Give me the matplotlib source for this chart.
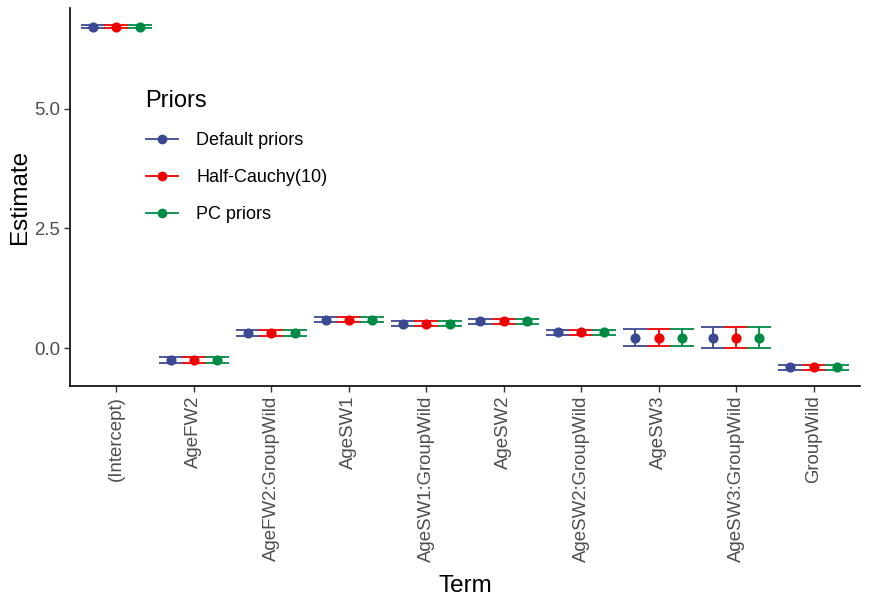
import matplotlib
matplotlib.use('Agg')
import matplotlib.pyplot as plt
from matplotlib.lines import Line2D
import numpy as np

plt.rcParams['font.family'] = ['Liberation Sans', 'DejaVu Sans']

# ── Data ─────────────────────────────────────────────────────────────────────
terms = ['(Intercept)', 'AgeFW2', 'AgeFW2:GroupWild', 'AgeSW1',
         'AgeSW1:GroupWild', 'AgeSW2', 'AgeSW2:GroupWild', 'AgeSW3',
         'AgeSW3:GroupWild', 'GroupWild']
priors = ['Default priors', 'Half-Cauchy(10)', 'PC priors']
colors = ['#3B4992', '#EE0000', '#008B45']

estimate = [6.71, -0.25, 0.31, 0.59, 0.51, 0.56, 0.33, 0.21, 0.22, -0.40]
lower    = [6.68, -0.31, 0.25, 0.54, 0.46, 0.51, 0.28, 0.05, 0.01, -0.45]
upper    = [6.74, -0.19, 0.37, 0.64, 0.56, 0.61, 0.38, 0.40, 0.44, -0.35]

# the three prior settings gave (visually) identical estimates
est = {p: estimate for p in priors}
lo  = {p: lower for p in priors}
hi  = {p: upper for p in priors}

# ── Plot ─────────────────────────────────────────────────────────────────────
fig = plt.figure(figsize=(8.82, 5.99), dpi=100)
ax = fig.add_axes([70 / 882, 1 - 386 / 599, (860 - 70) / 882, (386 - 8) / 599])

x = np.arange(len(terms))
offsets = [-0.3, 0.0, 0.3]
for p, c, off in zip(priors, colors, offsets):
    e = np.array(est[p])
    yerr = [e - np.array(lo[p]), np.array(hi[p]) - e]
    ax.errorbar(x + off, e, yerr=yerr, fmt='o', color=c, ms=6.3,
                elinewidth=1.3, capsize=8.64, capthick=1.3)

ax.set_xlim(-0.6, len(terms) - 0.4)
ax.set_ylim(-0.79, 7.10)
ax.set_xticks(x)
ax.set_xticklabels(terms, rotation=90, fontsize=13.4, color='#4D4D4D')
ax.set_yticks([0, 2.5, 5.0])
ax.set_yticklabels(['0.0', '2.5', '5.0'], fontsize=13.4, color='#4D4D4D')
ax.tick_params(length=4, width=1, color='#333333', pad=3)
for s in ['top', 'right']:
    ax.spines[s].set_visible(False)
for s in ['left', 'bottom']:
    ax.spines[s].set_linewidth(1.2)

ax.set_xlabel('Term', fontsize=17.5, labelpad=9)
ax.set_ylabel('Estimate', fontsize=17.5, labelpad=2)

handles = [Line2D([0], [0], color=c, marker='o', ms=6, lw=1.3) for c in colors]
leg = ax.legend(handles, priors, title='Priors', loc='upper left',
                bbox_to_anchor=(0.075, 0.825), frameon=False, fontsize=13,
                title_fontsize=17, labelspacing=1.1, handlelength=1.8,
                handletextpad=1.0)
leg._legend_box.align = 'left'

fig.savefig('out.png', dpi=100)
